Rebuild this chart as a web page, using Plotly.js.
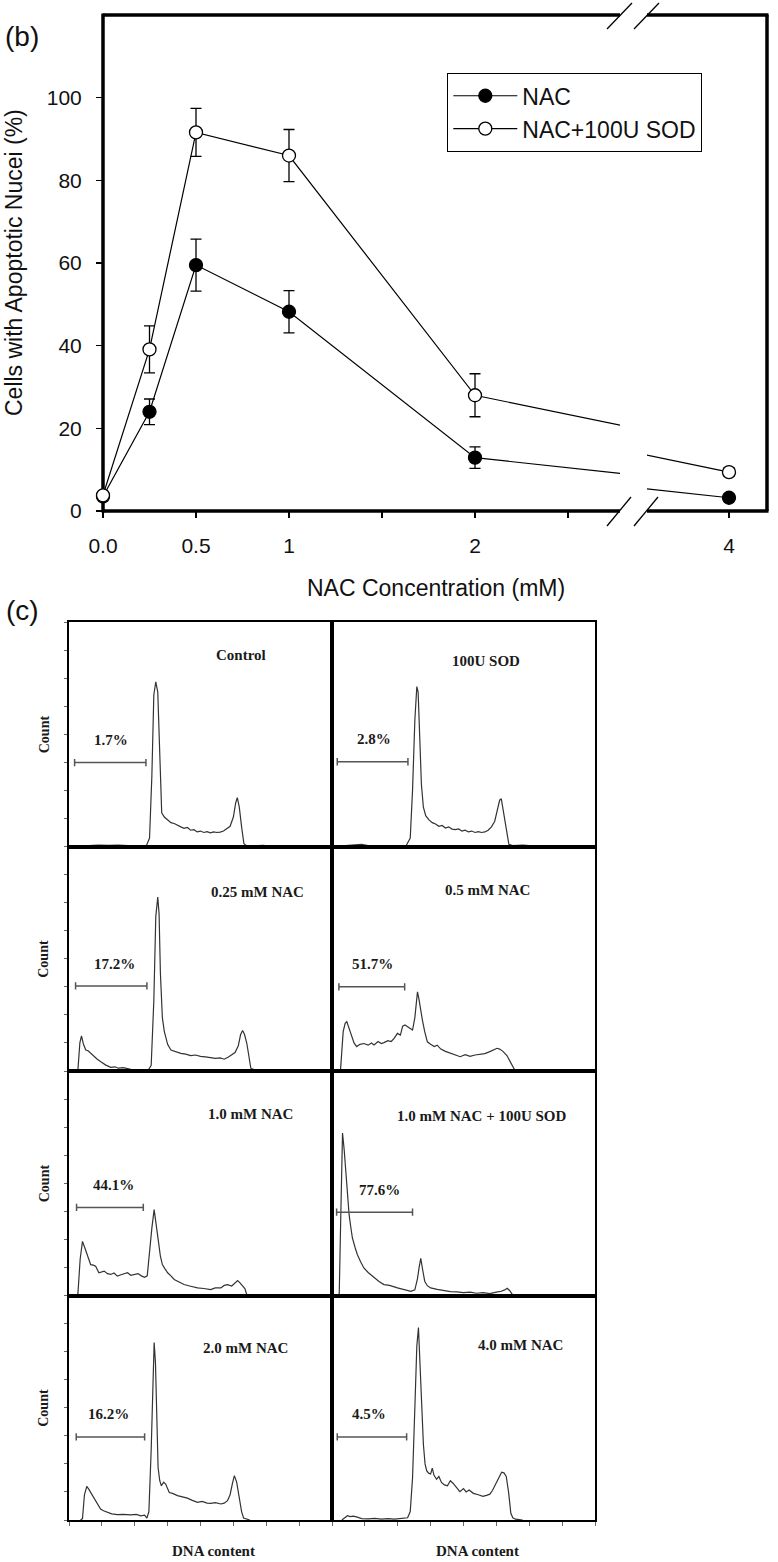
<!DOCTYPE html>
<html>
<head>
<meta charset="utf-8">
<script src="https://cdn.plot.ly/plotly-3.0.1.min.js"></script>
<style>
html,body{margin:0;padding:0;background:#fff;}
body{position:relative;width:778px;height:1562px;overflow:hidden;}
#top{position:absolute;left:0;top:0;width:778px;height:620px;}
#bottom{position:absolute;left:0;top:595px;width:778px;height:967px;background:transparent;}
</style>
</head>
<body>
<div id="top"></div>
<div id="bottom"></div>
<script>
// ---------- Panel (b) data ----------
const conc = [0, 0.25, 0.5, 1, 2, 4];
const nacMean = [3.5, 24, 59.5, 48.2, 12.9, 3.2];
const nacSD = [0.8, 3.1, 6.3, 5.1, 2.6, 0.8];
const sodMean = [3.8, 39.1, 91.6, 86, 28, 9.4];
const sodSD = [0.8, 5.7, 5.8, 6.3, 5.2, 1.0];
const seriesNames = ['NAC', 'NAC+100U SOD'];
const xTickVals = [0, 0.5, 1, 1.5, 2, 2.5, 4];
const xTickText = ['0.0', '0.5', '1', '', '2', '', '4'];
const yTickVals = [0, 20, 40, 60, 80, 100];

// ---------- Panel (c) data (DNA content histograms) ----------
const panelTitles = ['Control', '100U SOD', '0.25 mM NAC', '0.5 mM NAC',
  '1.0 mM NAC', '1.0 mM NAC + 100U SOD', '2.0 mM NAC', '4.0 mM NAC'];
const pctLabels = ['1.7%', '2.8%', '17.2%', '51.7%', '44.1%', '77.6%', '16.2%', '4.5%'];
const gateLo = [0.17, 0.16, 0.20, 0.21, 0.23, 0.14, 0.22, 0.16];
const gateHi = [2.34, 2.31, 2.37, 2.21, 2.26, 2.45, 2.30, 2.27];

const ctrlX = [0, 0.3, 0.6, 0.9, 1.2, 1.5, 1.8, 2.1, 2.35, 2.45, 2.52, 2.58, 2.64, 2.70, 2.76, 2.82, 2.9, 3.0, 3.1, 3.2, 3.3, 3.4, 3.5, 3.6, 3.7, 3.8, 3.9, 4.0, 4.1, 4.2, 4.3, 4.4, 4.5, 4.6, 4.7, 4.8, 4.9, 5.0, 5.07, 5.12, 5.18, 5.25, 5.32, 5.4, 5.6, 5.9, 6.3];
const ctrlY = [0, 0, 0.03, 0.05, 0.04, 0.05, 0.03, 0.02, 0.02, 0.3, 2.5, 5.4, 5.87, 5.5, 3.2, 1.2, 1.05, 0.95, 0.85, 0.82, 0.75, 0.7, 0.65, 0.68, 0.58, 0.6, 0.52, 0.55, 0.5, 0.53, 0.49, 0.52, 0.5, 0.51, 0.55, 0.62, 0.72, 1.05, 1.55, 1.74, 1.4, 0.7, 0.1, 0.03, 0.02, 0.04, 0];

const sodX = [0, 0.3, 0.5, 0.7, 0.9, 1.1, 1.5, 1.9, 2.25, 2.38, 2.45, 2.52, 2.58, 2.62, 2.67, 2.72, 2.78, 2.85, 2.95, 3.05, 3.15, 3.25, 3.35, 3.45, 3.55, 3.65, 3.75, 3.85, 3.95, 4.05, 4.15, 4.25, 4.35, 4.45, 4.55, 4.65, 4.75, 4.85, 4.95, 5.03, 5.1, 5.15, 5.22, 5.3, 5.38, 5.5, 5.8, 6.1, 6.3];
const sodY = [0, 0.02, 0.06, 0.05, 0.08, 0.03, 0.02, 0.03, 0.02, 0.3, 2.0, 4.5, 5.7, 5.5, 4.0, 2.2, 1.4, 1.1, 0.95, 0.85, 0.8, 0.72, 0.75, 0.66, 0.7, 0.62, 0.6, 0.63, 0.55, 0.58, 0.52, 0.55, 0.5, 0.53, 0.5, 0.52, 0.58, 0.7, 0.9, 1.3, 1.65, 1.7, 1.2, 0.5, 0.08, 0.03, 0.05, 0.02, 0];

const nac025X = [0.2, 0.27, 0.33, 0.38, 0.44, 0.51, 0.58, 0.66, 0.76, 0.86, 0.98, 1.12, 1.27, 1.4, 1.5, 1.65, 1.88, 2.1, 2.4, 2.5, 2.58, 2.64, 2.7, 2.74, 2.78, 2.84, 2.9, 3.0, 3.1, 3.25, 3.4, 3.55, 3.7, 3.85, 4.0, 4.15, 4.3, 4.45, 4.6, 4.72, 4.85, 4.95, 5.05, 5.15, 5.22, 5.28, 5.34, 5.41, 5.47, 5.53, 5.7, 6.0];
const nac025Y = [0, 0.02, 1.0, 1.25, 0.95, 0.75, 0.72, 0.63, 0.55, 0.42, 0.32, 0.21, 0.13, 0.15, 0.1, 0.12, 0.06, 0.02, 0.01, 0.2, 2.5, 5.5, 6.2, 5.6, 3.5, 1.9, 1.4, 0.95, 0.75, 0.68, 0.63, 0.6, 0.55, 0.57, 0.52, 0.5, 0.48, 0.45, 0.47, 0.42, 0.5, 0.58, 0.66, 0.9, 1.3, 1.44, 1.3, 0.98, 0.5, 0.1, 0.02, 0];

const nac05X = [0.2, 0.26, 0.34, 0.4, 0.45, 0.52, 0.59, 0.67, 0.75, 0.85, 0.97, 1.1, 1.2, 1.28, 1.4, 1.5, 1.58, 1.7, 1.8, 1.89, 1.99, 2.08, 2.15, 2.22, 2.3, 2.38, 2.45, 2.52, 2.56, 2.6, 2.64, 2.7, 2.75, 2.82, 2.9, 3.0, 3.11, 3.2, 3.31, 3.45, 3.61, 3.75, 3.9, 4.05, 4.2, 4.35, 4.5, 4.65, 4.8, 4.92, 5.02, 5.1, 5.2, 5.32, 5.43, 5.55, 5.7];
const nac05Y = [0, 0.05, 1.4, 1.7, 1.76, 1.5, 1.28, 1.0, 0.87, 0.95, 0.98, 0.92, 1.0, 0.93, 1.05, 0.98, 1.01, 1.08, 1.05, 1.16, 1.34, 1.28, 1.6, 1.64, 1.58, 1.5, 1.46, 1.9, 2.5, 2.82, 2.6, 2.1, 1.81, 1.4, 1.04, 0.95, 0.87, 0.92, 0.78, 0.7, 0.63, 0.55, 0.51, 0.58, 0.52, 0.57, 0.6, 0.62, 0.69, 0.75, 0.81, 0.78, 0.7, 0.55, 0.33, 0.05, 0];

const nac1X = [0.2, 0.27, 0.34, 0.41, 0.48, 0.56, 0.66, 0.74, 0.81, 0.91, 1.0, 1.07, 1.17, 1.27, 1.37, 1.47, 1.58, 1.68, 1.78, 1.88, 1.98, 2.1, 2.2, 2.3, 2.38, 2.44, 2.52, 2.59, 2.65, 2.72, 2.78, 2.84, 2.92, 3.0, 3.1, 3.2, 3.35, 3.5, 3.7, 3.91, 4.1, 4.31, 4.45, 4.62, 4.72, 4.82, 4.95, 5.05, 5.13, 5.2, 5.28, 5.35, 5.41, 5.6];
const nac1Y = [0, 0.05, 1.3, 1.93, 1.7, 1.46, 1.1, 1.08, 1.04, 0.81, 0.85, 0.87, 0.78, 0.75, 0.8, 0.69, 0.74, 0.78, 0.81, 0.72, 0.75, 0.78, 0.7, 0.65, 0.7, 1.46, 2.4, 3.06, 2.6, 1.93, 1.4, 1.1, 0.95, 0.81, 0.7, 0.57, 0.48, 0.39, 0.33, 0.27, 0.25, 0.21, 0.27, 0.27, 0.36, 0.39, 0.34, 0.46, 0.53, 0.45, 0.33, 0.25, 0.02, 0];

const nac1sodX = [0.15, 0.22, 0.27, 0.32, 0.37, 0.42, 0.47, 0.52, 0.57, 0.62, 0.7, 0.77, 0.87, 0.97, 1.1, 1.28, 1.43, 1.58, 1.75, 1.99, 2.2, 2.4, 2.52, 2.6, 2.65, 2.7, 2.76, 2.82, 2.9, 3.0, 3.2, 3.41, 3.6, 3.8, 4.0, 4.2, 4.4, 4.6, 4.8, 5.0, 5.15, 5.25, 5.33, 5.4, 5.49, 5.7];
const nac1sodY = [0, 0.05, 3.0, 5.79, 5.2, 4.31, 3.5, 2.88, 2.45, 2.05, 1.72, 1.46, 1.2, 0.98, 0.82, 0.63, 0.5, 0.39, 0.36, 0.27, 0.22, 0.15, 0.2, 0.6, 1.0, 1.32, 0.9, 0.51, 0.35, 0.27, 0.22, 0.18, 0.14, 0.13, 0.1, 0.12, 0.08, 0.1, 0.07, 0.12, 0.15, 0.2, 0.26, 0.18, 0.03, 0];

const nac2X = [0.35, 0.41, 0.47, 0.54, 0.6, 0.66, 0.73, 0.81, 0.88, 0.96, 1.05, 1.17, 1.3, 1.47, 1.65, 1.88, 2.05, 2.18, 2.3, 2.37, 2.43, 2.5, 2.55, 2.59, 2.63, 2.67, 2.71, 2.76, 2.81, 2.88, 2.94, 3.05, 3.15, 3.3, 3.45, 3.6, 3.75, 3.91, 4.05, 4.2, 4.31, 4.45, 4.62, 4.72, 4.82, 4.9, 4.97, 5.03, 5.1, 5.18, 5.25, 5.31, 5.5];
const nac2Y = [0, 0.05, 0.9, 1.2, 1.1, 0.98, 0.85, 0.69, 0.55, 0.39, 0.33, 0.27, 0.22, 0.19, 0.2, 0.18, 0.2, 0.15, 0.17, 0.07, 0.3, 2.5, 5.0, 6.32, 5.6, 3.5, 1.87, 1.4, 1.22, 1.35, 1.28, 0.98, 0.95, 0.87, 0.82, 0.78, 0.7, 0.63, 0.66, 0.6, 0.59, 0.62, 0.57, 0.6, 0.69, 0.9, 1.3, 1.58, 1.35, 0.69, 0.3, 0.07, 0];

const nac4X = [0.3, 0.4, 0.47, 0.55, 0.65, 0.77, 0.9, 1.1, 1.3, 1.5, 1.7, 1.9, 2.1, 2.3, 2.38, 2.45, 2.52, 2.58, 2.63, 2.68, 2.73, 2.78, 2.83, 2.88, 2.94, 3.0, 3.05, 3.1, 3.18, 3.25, 3.33, 3.42, 3.51, 3.6, 3.68, 3.78, 3.89, 4.0, 4.08, 4.17, 4.3, 4.45, 4.59, 4.7, 4.8, 4.88, 4.94, 5.02, 5.1, 5.16, 5.23, 5.3, 5.37, 5.44, 5.5, 5.58, 5.8];
const nac4Y = [0, 0.1, 0.15, 0.12, 0.14, 0.1, 0.05, 0.04, 0.06, 0.03, 0.05, 0.03, 0.05, 0.08, 0.3, 1.5, 4.0, 6.2, 6.86, 5.5, 4.0, 2.7, 2.0, 1.76, 1.67, 1.64, 1.85, 1.6, 1.45, 1.55, 1.34, 1.25, 1.22, 1.4, 1.31, 1.15, 1.01, 1.12, 1.0, 1.07, 0.95, 0.9, 0.84, 0.88, 0.92, 1.05, 1.19, 1.4, 1.6, 1.7, 1.68, 1.55, 1.0, 0.24, 0.08, 0.03, 0];

// ================= Panel (b) figure =================
(function () {
  const W = 778, H = 620, L = 103, R = 11, T = 15, B = 109;
  const PW = W - L - R, PH = H - T - B;
  const fx = p => (p - L) / PW;          // pixel -> paper x
  const fy = p => (H - B - p) / PH;      // pixel -> paper y
  const breakLo = 620, breakHi = 647, pxPerUnit = 186, pos4 = 729, right = W - R;
  const sans = 'Liberation Sans, Arial, Helvetica, sans-serif';

  function trace(i, xa) {
    const filled = i === 0;
    return {
      type: 'scatter', mode: 'lines+markers',
      x: conc, y: filled ? nacMean : sodMean,
      name: seriesNames[i], xaxis: xa, yaxis: 'y',
      showlegend: xa === 'x', cliponaxis: xa !== 'x',
      line: {color: '#000', width: 1.2},
      marker: {symbol: 'circle', size: 13, color: filled ? '#000' : '#fff', line: {color: '#000', width: 1.3}},
      error_y: {type: 'data', array: filled ? nacSD : sodSD, visible: true, color: '#000', thickness: 1.3, width: 5.5},
      hoverinfo: 'skip'
    };
  }
  const data = [trace(0, 'x'), trace(1, 'x'), trace(0, 'x2'), trace(1, 'x2')];

  const axCommon = {
    showgrid: false, zeroline: false, showline: false,
    ticks: 'outside', ticklen: 6, tickwidth: 1.5, tickcolor: '#000',
    tickfont: {family: sans, size: 21, color: '#111'}, anchor: 'y', ticklabelstandoff: 10
  };
  const lw = 3.5;
  const seg = (x0, y0, x1, y1, w) => ({type: 'line', xref: 'paper', yref: 'paper', layer: 'below',
    x0: fx(x0), y0: fy(y0), x1: fx(x1), y1: fy(y1), line: {color: '#000', width: w}});
  const yTop = T, yBot = H - B;
  const shapes = [
    seg(L, yTop - 1.5, L, yBot + 1.5, lw),
    seg(L, yBot, breakLo, yBot, lw), seg(breakHi, yBot, right + 1.5, yBot, lw),
    seg(L, yTop, breakLo, yTop, lw), seg(breakHi, yTop, right + 1.5, yTop, lw),
    seg(right, yTop, right, yBot, lw),
    seg(607, 526, 631, 497, 1.3), seg(634, 526, 658, 497, 1.3),
    seg(607, 29, 632, 3, 1.3), seg(634, 29, 659, 3, 1.3)
  ];
  const ann = (text, x, y, size, extra) => Object.assign({text: text, xref: 'paper', yref: 'paper',
    x: fx(x), y: fy(y), xanchor: 'center', yanchor: 'middle', showarrow: false,
    font: {family: sans, size: size, color: '#111'}}, extra || {});

  const layout = {
    width: W, height: H, margin: {l: L, r: R, t: T, b: B},
    paper_bgcolor: '#fff', plot_bgcolor: 'rgba(0,0,0,0)',
    font: {family: sans, color: '#111'},
    xaxis: Object.assign({}, axCommon, {domain: [0, fx(breakLo)], range: [0, (breakLo - L) / pxPerUnit],
      tickmode: 'array', tickvals: xTickVals, ticktext: xTickText}),
    xaxis2: Object.assign({}, axCommon, {domain: [fx(breakHi), 1],
      range: [4 - (pos4 - breakHi) / pxPerUnit, 4 + (right - pos4) / pxPerUnit],
      tickmode: 'array', tickvals: xTickVals, ticktext: xTickText}),
    yaxis: Object.assign({}, axCommon, {anchor: 'x', domain: [0, 1], range: [0, 120],
      tickmode: 'array', tickvals: yTickVals}),
    showlegend: true,
    legend: {x: fx(447), y: fy(73), xanchor: 'left', yanchor: 'top', bgcolor: '#fff',
      bordercolor: '#000', borderwidth: 1.3, font: {family: sans, size: 23, color: '#111'},
      itemwidth: 64, traceorder: 'normal'},
    shapes: shapes,
    annotations: [
      ann('(b)', 22, 37, 28),
      ann('Cells with Apoptotic Nucei (%)', 14, 263, 23, {textangle: -90}),
      ann('NAC Concentration (mM)', 436, 588, 23)
    ]
  };
  Plotly.newPlot('top', data, layout, {staticPlot: true, displayModeBar: false});
})();

// ================= Panel (c) figure =================
(function () {
  const W = 778, H = 967, L = 69, R = 183, T = 27, B = 42;
  const PW = W - L - R, PH = H - T - B;
  const fx = p => (p - L) / PW;
  const fy = p => (H - B - p) / PH;
  const serif = 'Liberation Serif, Times New Roman, serif';
  const histX = [ctrlX, sodX, nac025X, nac05X, nac1X, nac1sodX, nac2X, nac4X];
  const histY = [ctrlY, sodY, nac025Y, nac05Y, nac1Y, nac1sodY, nac2Y, nac4Y];
  const colDom = [[0, 0.5], [0.5, 1]];
  const rowDom = [[0.75, 1], [0.5, 0.75], [0.25, 0.5], [0, 0.25]];
  // layout positions (axis units) of labels
  const titlePos = [[5.23, 6.84], [4.67, 6.6], [5.73, 6.38], [4.73, 6.44], [5.53, 6.47], [4.57, 6.4], [5.38, 6.13], [5.72, 6.24]];
  const gateY = [2.99, 3.02, 3.03, 3.0, 3.14, 2.97, 2.96, 2.96];
  const pctX = [1.27, 1.28, 1.37, 1.23, 1.34, 1.43, 1.2, 1.13];

  const data = [];
  const layout = {
    width: W, height: H, margin: {l: L, r: R, t: T, b: B},
    paper_bgcolor: 'rgba(0,0,0,0)', plot_bgcolor: '#fff', showlegend: false,
    shapes: [], annotations: []
  };
  const txt = {family: serif, size: 15, color: '#1a1a1a'};
  for (let i = 0; i < 8; i++) {
    const row = Math.floor(i / 2), col = i % 2;
    const xid = i === 0 ? 'x' : 'x' + (i + 1);
    const yid = i === 0 ? 'y' : 'y' + (i + 1);
    const xkey = i === 0 ? 'xaxis' : 'xaxis' + (i + 1);
    const ykey = i === 0 ? 'yaxis' : 'yaxis' + (i + 1);
    layout[xkey] = {domain: colDom[col], range: [0, 8], anchor: yid, showline: true, mirror: true,
      linecolor: '#000', linewidth: 2, showgrid: false, zeroline: false,
      ticks: row === 3 ? 'outside' : '', tickmode: 'linear', tick0: 0, dtick: 1, ticklen: 4,
      tickwidth: 1, tickcolor: '#666', showticklabels: false};
    layout[ykey] = {domain: rowDom[row], range: [0, 8], anchor: xid, showline: true, mirror: true,
      linecolor: '#000', linewidth: 2, showgrid: false, zeroline: false,
      ticks: col === 0 ? 'outside' : '', tickmode: 'linear', tick0: 0, dtick: 1, ticklen: 3,
      tickwidth: 1, tickcolor: '#666', showticklabels: false};
    data.push({type: 'scatter', mode: 'lines', x: histX[i], y: histY[i], xaxis: xid, yaxis: yid,
      line: {color: '#333', width: 1.2}, hoverinfo: 'skip'});
    const g = {color: '#555', width: 1.5};
    layout.shapes.push({type: 'line', xref: xid, yref: yid, x0: gateLo[i], x1: gateHi[i], y0: gateY[i], y1: gateY[i], line: g});
    layout.shapes.push({type: 'line', xref: xid, yref: yid, x0: gateLo[i], x1: gateLo[i], y0: gateY[i] - 0.13, y1: gateY[i] + 0.13, line: g});
    layout.shapes.push({type: 'line', xref: xid, yref: yid, x0: gateHi[i], x1: gateHi[i], y0: gateY[i] - 0.13, y1: gateY[i] + 0.13, line: g});
    layout.annotations.push({text: '<b>' + panelTitles[i] + '</b>', xref: xid, yref: yid,
      x: titlePos[i][0], y: titlePos[i][1], xanchor: 'center', yanchor: 'middle', showarrow: false, font: txt});
    layout.annotations.push({text: '<b>' + pctLabels[i] + '</b>', xref: xid, yref: yid,
      x: pctX[i], y: gateY[i] + 0.8, xanchor: 'center', yanchor: 'middle', showarrow: false, font: txt});
  }
  const rowCenters = [0.875, 0.625, 0.375, 0.125];
  rowCenters.forEach(c => layout.annotations.push({text: '<b>Count</b>', xref: 'paper', yref: 'paper',
    x: fx(44), y: c, xanchor: 'center', yanchor: 'middle', textangle: -90, showarrow: false,
    font: {family: serif, size: 14, color: '#1a1a1a'}}));
  [213, 477].forEach(p => layout.annotations.push({text: '<b>DNA content</b>', xref: 'paper', yref: 'paper',
    x: fx(p), y: fy(956), xanchor: 'center', yanchor: 'middle', showarrow: false,
    font: {family: serif, size: 15, color: '#1a1a1a'}}));
  layout.annotations.push({text: '(c)', xref: 'paper', yref: 'paper', x: fx(22), y: fy(16),
    xanchor: 'center', yanchor: 'middle', showarrow: false,
    font: {family: 'Liberation Sans, Arial, sans-serif', size: 28, color: '#111'}});
  Plotly.newPlot('bottom', data, layout, {staticPlot: true, displayModeBar: false});
})();
</script>
</body>
</html>
